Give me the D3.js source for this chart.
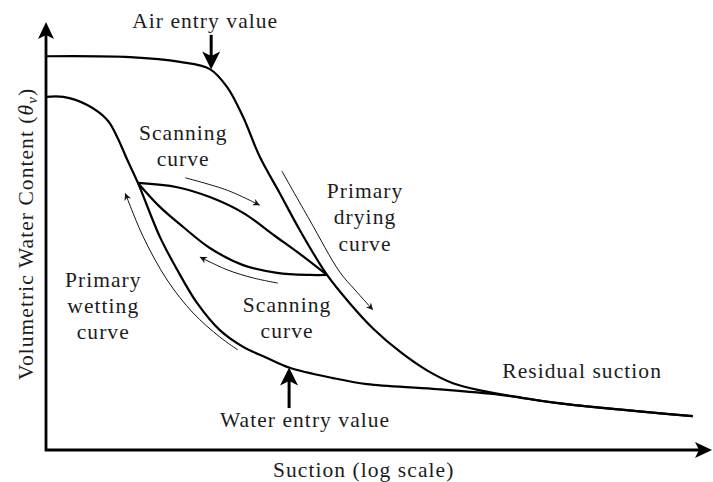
<!DOCTYPE html>
<html>
<head>
<meta charset="utf-8">
<script src="https://cdn.jsdelivr.net/npm/d3@7"></script>
<style>
  body { margin: 0; background: #fff; }
</style>
</head>
<body>
<div id="chart"></div>
<script>
// soil water characteristic curve, values in arbitrary units (0-100 on both axes)
const dryingCurve = [[0,92.0],[12.6,91.8],[20.1,90.7],[24.6,89.0],[27.2,84.8],[29.6,77.8],[32.1,68.5],[35.1,60.0],[38.1,51.4],[42.2,40.9],[45.6,34.3],[49.1,28.4],[53.2,22.9],[57.2,18.6],[61.1,15.6],[65.6,13.8],[70.7,12.4],[77.2,10.9],[97.1,7.9]]
const wettingCurve = [[0,82.5],[2.6,82.5],[6.2,80.6],[9.2,77.1],[10.7,73.1],[12.2,67.8],[13.8,62.4],[17.1,49.8],[19.7,42.1],[22.7,34.3],[26.1,28.0],[29.6,24.1],[33.2,21.5],[36.6,19.2],[43.1,16.8],[48.2,15.4],[58.1,14.3],[68.2,12.9],[77.2,10.9],[97.1,7.9]]
const scanDrying = [[13.8,62.4],[19.7,61.4],[24.6,59.1],[29.6,55.4],[34.4,50.0],[38.9,44.9],[42.2,40.9]]
const scanWetting = [[42.2,40.9],[39.6,40.9],[34.7,41.4],[29.6,43.2],[24.6,47.2],[20.6,52.1],[17.1,56.8],[13.8,62.4]]

// direction arrows next to the curves
const scanDryArrow = [[20.9,63.6],[27.2,60.7],[32.1,57.2]]
const scanWetArrow = [[34.8,39.0],[31.1,40.2],[27.2,42.1],[23.1,45.1]]
const wetArrow = [[28.8,23.4],[26.1,26.4],[22.1,32.0],[18.2,39.7],[14.6,49.8],[11.9,60.0]]
const dryArrow = [[35.4,65.2],[39.6,53.7],[44.1,41.6],[46.4,37.4],[49.1,32.7]]

// entry values: suction, start and tip of the pointer
const airEntry = [24.8, 97.0, 89.0]
const waterEntry = [36.5, 9.8, 19.2]

const xTitle = "Suction (log scale)"
const yTitle = "Volumetric Water Content"

const width = 713, height = 482

// pick a serif face that is really installed, size it to the reference text width
const ctx = document.createElement("canvas").getContext("2d")
function measure(font, s) { ctx.font = font; return ctx.measureText(s).width }
const probe = "Air entry value Wgm"
const serifs = ["Liberation Serif", "DejaVu Serif", "Tinos", "Times New Roman", "Noto Serif", "FreeSerif", "Nimbus Roman", "serif"]
let family = serifs.find(f => f == "serif" ||
    measure("40px '" + f + "', monospace", probe) != measure("40px monospace", probe))
if (family != "serif") family = "'" + family + "', serif"
const unitW = measure("100px " + family, "Air entry value") / 100
const fontSize = Math.min(21.5, 145 / unitW)
const spacing = Math.max(0, (145 - unitW * fontSize) / 14)

const svg = d3.select("#chart")
    .append("svg")
    .attr("width", width)
    .attr("height", height)
    .style("font-family", family)
    .style("font-size", fontSize + "px")
    .style("letter-spacing", spacing + "px")

const x = d3.scaleLinear().domain([0, 100]).range([46, 712])
const y = d3.scaleLinear().domain([0, 100]).range([450, 22])

const defs = svg.append("defs")

defs.append("marker")
    .attr("id", "thin")
    .attr("viewBox", "0 0 10 10")
    .attr("refX", 10).attr("refY", 5)
    .attr("markerWidth", 10).attr("markerHeight", 7)
    .attr("markerUnits", "userSpaceOnUse")
    .attr("orient", "auto")
  .append("path")
    .attr("d", "M0,0 L10,5 L0,10 L3,5 Z")
    .attr("fill", "#111")

defs.append("marker")
    .attr("id", "big")
    .attr("viewBox", "0 0 10 10")
    .attr("refX", 6.5).attr("refY", 5)
    .attr("markerWidth", 18).attr("markerHeight", 20)
    .attr("markerUnits", "userSpaceOnUse")
    .attr("orient", "auto")
  .append("path")
    .attr("d", "M0,0 L10,5 L0,10 L2.5,5 Z")
    .attr("fill", "#000")

// axes
svg.append("path")
    .attr("d", d3.line()([[x(0), y(100) + 10], [x(0), y(0)], [x(100) - 10, y(0)]]))
    .attr("fill", "none")
    .attr("stroke", "#000")
    .attr("stroke-width", 2.8)

// arrow heads at the axis ends
const head = (tx, ty, dx, dy) => {
  const px = -dy, py = dx
  return "M" + tx + "," + ty +
    "L" + (tx - 17 * dx + 8 * px) + "," + (ty - 17 * dy + 8 * py) +
    "L" + (tx - 13 * dx) + "," + (ty - 13 * dy) +
    "L" + (tx - 17 * dx - 8 * px) + "," + (ty - 17 * dy - 8 * py) + "Z"
}
svg.append("path").attr("d", head(x(0), y(100), 0, -1)).attr("fill", "#000")
svg.append("path").attr("d", head(x(100), y(0), 1, 0)).attr("fill", "#000")

const curve = d3.line()
    .x(d => x(d[0]))
    .y(d => y(d[1]))
    .curve(d3.curveCatmullRom.alpha(0.5))

svg.selectAll(".curve")
    .data([dryingCurve, wettingCurve, scanDrying, scanWetting])
    .enter()
    .append("path")
      .attr("class", "curve")
      .attr("d", curve)
      .attr("fill", "none")
      .attr("stroke", "#000")
      .attr("stroke-width", 2.2)

svg.selectAll(".dir")
    .data([scanDryArrow, scanWetArrow, wetArrow, dryArrow])
    .enter()
    .append("path")
      .attr("class", "dir")
      .attr("d", curve)
      .attr("fill", "none")
      .attr("stroke", "#111")
      .attr("stroke-width", 1)
      .attr("marker-end", "url(#thin)")

svg.selectAll(".entry")
    .data([airEntry, waterEntry])
    .enter()
    .append("line")
      .attr("class", "entry")
      .attr("x1", d => x(d[0])).attr("y1", d => y(d[1]))
      .attr("x2", d => x(d[0]))
      .attr("y2", d => y(d[2]) + (d[2] > d[1] ? 6 : -6))
      .attr("stroke", "#000")
      .attr("stroke-width", 3)
      .attr("marker-end", "url(#big)")

// labels
function label(lines, cx, base, step) {
  lines.forEach(function(t, i) {
    svg.append("text")
        .attr("x", x(cx))
        .attr("y", y(base) + i * step)
        .attr("text-anchor", "middle")
        .attr("fill", "#1c1c1c")
        .text(t)
  })
}

label(["Air entry value"], 23.9, 98.6, 0)
label(["Scanning", "curve"], 20.6, 72.4, 26)
label(["Primary", "drying", "curve"], 47.9, 58.9, 26.5)
label(["Primary", "wetting", "curve"], 8.6, 38.1, 26)
label(["Scanning", "curve"], 36.2, 32.2, 26)
label(["Water entry value"], 38.9, 5.4, 0)
label(["Residual suction"], 80.5, 16.8, 0)
label([xTitle], 47.7, -6.3, 0)

const yt = svg.append("text")
    .attr("transform", "translate(33," + y(50.5) + ") rotate(-90)")
    .attr("text-anchor", "middle")
    .attr("fill", "#1c1c1c")
yt.append("tspan").text(yTitle + " (")
yt.append("tspan").attr("font-style", "italic").text("θ")
yt.append("tspan").attr("font-style", "italic").attr("font-size", "15px").attr("dy", 4).text("v")
yt.append("tspan").attr("dy", -4).text(")")
</script>
</body>
</html>
